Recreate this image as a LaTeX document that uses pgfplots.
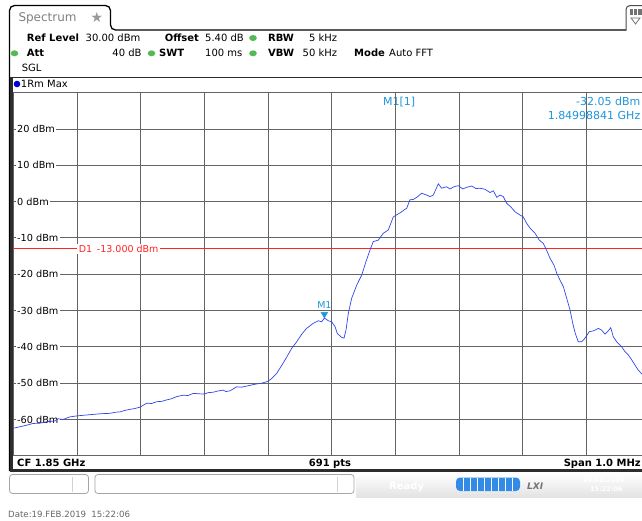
\documentclass[border=0pt]{standalone}
\usepackage{fontspec}
\setmainfont{DejaVu Sans}
\usepackage{pgfplots}
\usepackage{pgfplotstable}
\pgfplotsset{compat=1.18}
\definecolor{gridc}{RGB}{100,100,100}
\definecolor{trace}{RGB}{50,70,235}
\definecolor{mkblue}{RGB}{30,150,220}
\definecolor{dline}{RGB}{255,35,35}
\definecolor{ledgreen}{RGB}{85,185,85}
\definecolor{framec}{RGB}{45,45,45}
\definecolor{barblue}{RGB}{50,140,230}
\newcommand{\fs}[1]{\fontsize{#1}{#1}\selectfont}

\pgfplotstableread{
f p
1849.5000 -62.4
1849.5100 -62.0
1849.5200 -61.6
1849.5306 -61.1
1849.5420 -61.0
1849.5526 -60.6
1849.5650 -60.4
1849.5700 -59.8
1849.5778 -60.0
1849.5880 -59.3
1849.5998 -59.0
1849.6120 -58.8
1849.6249 -58.6
1849.6380 -58.4
1849.6516 -58.3
1849.6600 -58.0
1849.6673 -57.9
1849.6750 -57.5
1849.6830 -57.2
1849.6900 -57.0
1849.6987 -56.6
1849.7093 -55.5
1849.7170 -55.6
1849.7250 -55.1
1849.7330 -55.0
1849.7407 -54.6
1849.7480 -54.3
1849.7564 -53.7
1849.7668 -53.3
1849.7740 -53.4
1849.7825 -52.8
1849.7900 -52.9
1849.7993 -53.0
1849.8060 -52.6
1849.8134 -52.5
1849.8200 -52.2
1849.8291 -51.9
1849.8340 -52.3
1849.8402 -52.1
1849.8507 -51.0
1849.8580 -51.1
1849.8664 -50.8
1849.8740 -50.5
1849.8821 -50.2
1849.8900 -50.0
1849.8978 -49.6
1849.9030 -49.1
1849.9080 -48.3
1849.9135 -47.3
1849.9200 -45.5
1849.9266 -43.6
1849.9371 -40.4
1849.9449 -38.6
1849.9528 -36.5
1849.9606 -34.9
1849.9710 -33.5
1849.9789 -32.8
1849.9842 -33.1
1849.9884 -32.05
1849.9946 -32.8
1849.9999 -33.1
1850.0051 -34.4
1850.0087 -36.3
1850.0156 -37.4
1850.0192 -37.6
1850.0224 -35.4
1850.0260 -30.8
1850.0313 -26.6
1850.0392 -23.0
1850.0471 -20.2
1850.0538 -16.5
1850.0601 -13.3
1850.0653 -11.0
1850.0731 -10.6
1850.0810 -8.7
1850.0888 -7.8
1850.0967 -4.2
1850.1072 -3.1
1850.1178 -1.8
1850.1229 0.5
1850.1281 0.6
1850.1335 1.2
1850.1413 2.3
1850.1492 1.8
1850.1544 1.4
1850.1595 1.8
1850.1674 4.9
1850.1727 3.7
1850.1806 4.1
1850.1858 3.5
1850.1921 4.1
1850.1988 4.4
1850.2057 3.5
1850.2130 4.0
1850.2199 4.3
1850.2266 3.6
1850.2329 3.7
1850.2408 3.4
1850.2486 2.5
1850.2538 3.0
1850.2592 1.2
1850.2643 1.8
1850.2695 1.4
1850.2749 -0.5
1850.2811 -1.4
1850.2879 -2.8
1850.2958 -3.7
1850.3009 -4.2
1850.3063 -6.0
1850.3115 -7.3
1850.3193 -8.7
1850.3261 -10.6
1850.3324 -11.5
1850.3386 -13.8
1850.3429 -15.6
1850.3492 -17.5
1850.3534 -19.7
1850.3586 -21.6
1850.3638 -23.4
1850.3691 -26.6
1850.3743 -29.8
1850.3786 -33.5
1850.3826 -36.3
1850.3874 -38.6
1850.3927 -38.6
1850.3979 -37.6
1850.4046 -35.8
1850.4109 -35.6
1850.4188 -34.9
1850.4241 -35.4
1850.4293 -36.5
1850.4345 -35.6
1850.4383 -34.7
1850.4423 -37.2
1850.4477 -38.6
1850.4555 -40.0
1850.4607 -41.3
1850.4659 -42.2
1850.4713 -43.6
1850.4764 -45.0
1850.4816 -46.4
1850.4874 -47.5
1850.5000 -50.0
}\tracedata

\begin{document}
\begin{tikzpicture}
\useasboundingbox (0pt,0pt) rectangle (642pt,-520pt);
\clip (0pt,0pt) rectangle (642pt,-520pt);
\fill[white] (0pt,0pt) rectangle (642pt,-520pt);

% ---------- header ----------
\begin{scope}[x=1pt,y=-1pt]
  \draw[black, line width=1.3pt, rounded corners=5pt]
     (9.5,471) -- (9.5,5.5) -- (110.5,5.5) -- (110.5,30) -- (626,30);
  \draw[black!70, line width=1pt, rounded corners=4pt] (626,30.5) -- (626,5.5) -- (660,5.5);
  \fill[black!55] (629.5,9) rectangle (642,15);
  \draw[white, line width=0.7pt] (633.5,9) -- (633.5,15) (637.5,9) -- (637.5,15);
  \draw[black!55, line width=0.8pt] (631,18) -- (640,18) -- (635.5,24) -- cycle;

  \node[anchor=base west, inner sep=0, text=black!50, font=\fs{12}] at (18.3,21.7) {Spectrum};
  \node[anchor=base west, inner sep=0, text=black!40, font=\fs{14}] at (90.5,22.5) {★};

  \node[anchor=base west, inner sep=0, font=\fs{10}\bfseries] at (26.7,41.7) {Ref Level};
  \node[anchor=base west, inner sep=0, font=\fs{10}] at (85.5,41.7) {30.00 dBm};
  \node[anchor=base west, inner sep=0, font=\fs{10}\bfseries] at (164.6,41.7) {Offset};
  \node[anchor=base west, inner sep=0, font=\fs{10}] at (205,41.7) {5.40 dB};
  \fill[ledgreen] (253,38) ellipse (3.8 and 3);
  \node[anchor=base west, inner sep=0, font=\fs{10}\bfseries] at (268,41.7) {RBW};
  \node[anchor=base east, inner sep=0, font=\fs{10}] at (337.4,41.7) {5 kHz};

  \fill[ledgreen] (14.5,53.3) ellipse (3.8 and 3);
  \node[anchor=base west, inner sep=0, font=\fs{10}\bfseries] at (26.7,56.7) {Att};
  \node[anchor=base east, inner sep=0, font=\fs{10}] at (141.7,56.7) {40 dB};
  \fill[ledgreen] (151.5,53.3) ellipse (3.8 and 3);
  \node[anchor=base west, inner sep=0, font=\fs{10}\bfseries] at (159,56.7) {SWT};
  \node[anchor=base west, inner sep=0, font=\fs{10}] at (205,56.7) {100 ms};
  \fill[ledgreen] (253,53.3) ellipse (3.8 and 3);
  \node[anchor=base west, inner sep=0, font=\fs{10}\bfseries] at (268,56.7) {VBW};
  \node[anchor=base east, inner sep=0, font=\fs{10}] at (337.4,56.7) {50 kHz};
  \node[anchor=base west, inner sep=0, font=\fs{10}\bfseries] at (354,56.7) {Mode};
  \node[anchor=base west, inner sep=0, font=\fs{10}] at (389,56.7) {Auto FFT};

  \node[anchor=base west, inner sep=0, font=\fs{10}] at (21.7,71.7) {SGL};

  \fill[blue!85!black] (17,84) circle (3.3);
  \node[anchor=base west, inner sep=0, font=\fs{10}] at (20.7,87.6) {1Rm Max};

  \node[anchor=base west, inner sep=0, text=mkblue, font=\fs{11}] at (383,105) {M1[1]};
  \node[anchor=base east, inner sep=0, text=mkblue, font=\fs{11}] at (640.5,105) {-32.05 dBm};
  \node[anchor=base east, inner sep=0, text=mkblue, font=\fs{11}] at (640.5,119.3) {1.84998841 GHz};
\end{scope}

% ---------- spectrum axis ----------
\begin{axis}[
  at={(13.5pt,-455.8pt)}, anchor=south west,
  scale only axis, width=636.5pt, height=363.1pt,
  xmin=1849.5, xmax=1850.5, ymin=-70, ymax=30,
  xtick={1849.5,1849.6,1849.7,1849.8,1849.9,1850.0,1850.1,1850.2,1850.3,1850.4,1850.5},
  ytick={-70,-60,-50,-40,-30,-20,-10,0,10,20,30},
  xticklabels={}, yticklabels={},
  major tick length=0pt,
  grid=major,
  grid style={gridc, line width=0.9pt},
  axis line style={gridc, line width=0.9pt},
]
\node[anchor=west, fill=white, inner sep=1.5pt, xshift=2pt, font=\fs{9.7}] at (axis cs:1849.5,20) {20 dBm};
\node[anchor=west, fill=white, inner sep=1.5pt, xshift=2pt, font=\fs{9.7}] at (axis cs:1849.5,10) {10 dBm};
\node[anchor=west, fill=white, inner sep=1.5pt, xshift=2pt, font=\fs{9.7}] at (axis cs:1849.5,0) {0 dBm};
\node[anchor=west, fill=white, inner sep=1.5pt, xshift=2pt, font=\fs{9.7}] at (axis cs:1849.5,-10) {-10 dBm};
\node[anchor=west, fill=white, inner sep=1.5pt, xshift=2pt, font=\fs{9.7}] at (axis cs:1849.5,-20) {-20 dBm};
\node[anchor=west, fill=white, inner sep=1.5pt, xshift=2pt, font=\fs{9.7}] at (axis cs:1849.5,-30) {-30 dBm};
\node[anchor=west, fill=white, inner sep=1.5pt, xshift=2pt, font=\fs{9.7}] at (axis cs:1849.5,-40) {-40 dBm};
\node[anchor=west, fill=white, inner sep=1.5pt, xshift=2pt, font=\fs{9.7}] at (axis cs:1849.5,-50) {-50 dBm};
\node[anchor=west, fill=white, inner sep=1.5pt, xshift=2pt, font=\fs{9.7}] at (axis cs:1849.5,-60) {-60 dBm};

\addplot[dline, line width=0.8pt] coordinates {(1849.5,-13) (1850.5,-13)};
\node[anchor=west, fill=white, inner xsep=1.5pt, inner ysep=1pt, text=dline, font=\fs{9.5}]
   at (axis cs:1849.6,-13) {D1\hspace{0.5em}-13.000 dBm};

\addplot[trace, line width=0.7pt] table[x=f, y=p] {\tracedata};

\addplot[only marks, mark=triangle*, mark size=3.8pt, color=mkblue,
         mark options={yshift=3.8pt, rotate=180, fill=mkblue, draw=mkblue}]
   coordinates {(1849.98841,-32.05)};
\node[anchor=base, inner sep=0, yshift=9.7pt, text=mkblue, font=\fs{9.5}]
   at (axis cs:1849.98841,-32.05) {M1};
\end{axis}

% ---------- frame, status row, bottom bar ----------
\begin{scope}[x=1pt,y=-1pt]
  \draw[framec, line width=1.5pt] (9.5,77.5) -- (660,77.5);
  \fill[framec] (9.5,77) rectangle (13,471);
  \draw[framec, line width=2.5pt] (9.5,470.5) -- (660,470.5);

  \node[anchor=base west, inner sep=0, font=\fs{10}\bfseries] at (17,466.5) {CF 1.85 GHz};
  \node[anchor=base, inner sep=0, font=\fs{10}\bfseries] at (330,466.5) {691 pts};
  \node[anchor=base east, inner sep=0, font=\fs{10}\bfseries] at (641,466.5) {Span 1.0 MHz};

  \draw[gray!70, line width=0.8pt, rounded corners=3pt, fill=white] (9.5,474.5) rectangle (88.5,493.5);
  \draw[gray!35, line width=0.8pt] (72.5,476.5) -- (72.5,491.5);
  \draw[gray!70, line width=0.8pt, rounded corners=3pt, fill=white] (95,474.5) rectangle (354,493.5);
  \draw[gray!35, line width=0.8pt] (337.5,476.5) -- (337.5,491.5);

  \shade[top color=white, bottom color=gray!22] (356,473) rectangle (642,497);
  \node[anchor=base west, inner sep=0, text=white, font=\fs{10}\bfseries] at (389,489) {Ready};
  \fill[barblue, rounded corners=4pt] (456,477.5) rectangle (520,491);
  \foreach \xx in {463.1,470.2,477.3,484.4,491.5,498.6,505.7,512.8}
     \draw[white, line width=0.9pt] (\xx,478) -- (\xx,490.5);
  \node[anchor=base west, inner sep=0, text=black!55, font=\fs{9}\bfseries\itshape] at (527,489) {LXI};
  \node[anchor=base west, inner sep=0, text=white, font=\fs{6.5}\bfseries] at (583,482.5) {19.02.2019};
  \node[anchor=base west, inner sep=0, text=white, font=\fs{6.5}\bfseries] at (590,491.5) {15:22:06};

  \node[anchor=base west, inner sep=0, text=black!60, font=\fs{8.6}] at (8,517.5) {Date:19.FEB.2019\hspace{0.6em}15:22:06};
\end{scope}
\end{tikzpicture}
\end{document}
